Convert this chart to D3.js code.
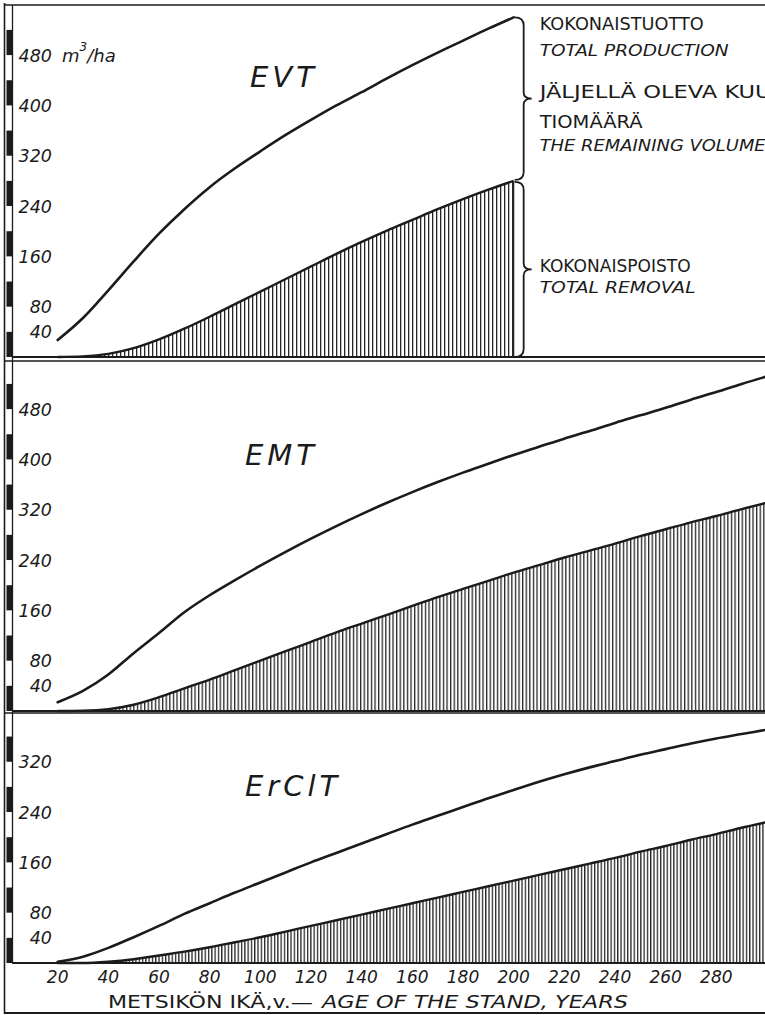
<!DOCTYPE html>
<html>
<head>
<meta charset="utf-8">
<script src="https://cdn.jsdelivr.net/npm/d3@7/dist/d3.min.js"></script>
<style>
    body { margin: 0; background: #fff; }
    svg { display: block; }
    text { font-family: "DejaVu Sans", sans-serif; fill: #1b1b1b; }
    .it { font-style: italic; }
</style>
</head>
<body>
<div id="chart"></div>
<script>
// stand age, years
const ages = [20, 30, 40, 50, 60, 70, 80, 90, 100, 110, 120, 130, 140, 150, 160,
    170, 180, 190, 200, 210, 220, 230, 240, 250, 260, 270, 280, 290, 300];

// m3/ha (EVT stops at 200 years)
const evtTotal = [27, 62, 106, 152, 196, 235, 270, 300, 327, 353, 377, 400, 421, 443, 464, 484, 503, 522, 540];
const evtRemoval = [0, 1, 5, 14, 28, 45, 64, 84, 104, 124, 144, 164, 183, 201, 218, 235, 251, 266, 280];

const emtTotal = [14, 32, 58, 92, 124, 157, 184, 208, 231, 253, 274, 294, 313, 331, 348, 364, 379, 393,
    407, 420, 433, 445, 458, 470, 482, 495, 507, 520, 532];
const emtRemoval = [0, 0.5, 3, 10, 22, 36, 50, 65, 80, 95, 110, 125, 139, 153, 167, 181, 194, 207,
    220, 232, 244, 255, 266, 278, 289, 300, 310, 321, 331];

const erclTotal = [2, 10, 24, 41, 59, 78, 95, 112, 128, 144, 160, 175, 190, 205, 220, 234, 248, 262,
    275, 288, 300, 311, 321, 331, 340, 349, 357, 364, 371];
const erclRemoval = [0, 0, 2, 6, 12, 18, 25, 33, 41, 50, 59, 68, 77, 86, 95, 104, 113, 122,
    131, 140, 149, 158, 167, 177, 186, 196, 205, 215, 224];

const yTicksTall = [40, 80, 160, 240, 320, 400, 480];
const yTicksShort = [40, 80, 160, 240, 320];
const xTicks = [20, 40, 60, 80, 100, 120, 140, 160, 180, 200, 220, 240, 260, 280];

const W = 765, H = 1015;
const ink = "#1b1b1b";
const pxPerUnit = 0.629;

let svg = d3.select("#chart").append("svg")
    .attr("width", W)
    .attr("height", H);

let x = d3.scaleLinear().domain([0, 300]).range([7, 767]);

let panels = [
    {title: "EVT", total: evtTotal, removal: evtRemoval, ticks: yTicksTall, top: 5, base: 357, hatch: 4.0, tx: 250, ty: 87},
    {title: "EMT", total: emtTotal, removal: emtRemoval, ticks: yTicksTall, top: 361, base: 711, hatch: 3.6, tx: 245, ty: 465},
    {title: "ErClT", total: erclTotal, removal: erclRemoval, ticks: yTicksShort, top: 713, base: 963, hatch: 3.3, tx: 245, ty: 796}
];

let defs = svg.append("defs");

panels.forEach((p, i) => {
    p.y = d3.scaleLinear().domain([0, 480]).range([p.base, p.base - 480 * pxPerUnit]);

    // vertical hatching pattern for the removal area
    let pat = defs.append("pattern")
        .attr("id", "hatch" + i)
        .attr("patternUnits", "userSpaceOnUse")
        .attr("width", p.hatch)
        .attr("height", 20);
    pat.append("rect")
        .attr("x", 0).attr("y", 0)
        .attr("width", 1.3).attr("height", 20)
        .attr("fill", "#262626");

    let n = p.total.length;
    let totalPts = ages.slice(0, n).map((a, k) => [a, p.total[k]]);
    let removalPts = ages.slice(0, p.removal.length).map((a, k) => [a, p.removal[k]]);

    let line = d3.line()
        .x(d => x(d[0]))
        .y(d => p.y(d[1]))
        .curve(d3.curveMonotoneX);

    let area = d3.area()
        .x(d => x(d[0]))
        .y0(p.base)
        .y1(d => p.y(d[1]))
        .curve(d3.curveMonotoneX);

    let g = svg.append("g");

    g.append("path")
        .attr("d", area(removalPts))
        .attr("fill", `url(#hatch${i})`);

    g.append("path")
        .attr("d", line(removalPts))
        .attr("fill", "none")
        .attr("stroke", ink)
        .attr("stroke-width", 2.4);

    g.append("path")
        .attr("d", line(totalPts))
        .attr("fill", "none")
        .attr("stroke", ink)
        .attr("stroke-width", 2.6)
        .attr("stroke-linecap", "round");

    // the closing vertical of the EVT hatch
    if (n < ages.length) {
        let endAge = ages[n - 1];
        g.append("line")
            .attr("x1", x(endAge)).attr("x2", x(endAge))
            .attr("y1", p.y(p.removal[n - 1])).attr("y2", p.base)
            .attr("stroke", ink).attr("stroke-width", 1.2);
    }

    // baseline and top rule
    g.append("line")
        .attr("x1", 12).attr("x2", W)
        .attr("y1", p.base).attr("y2", p.base)
        .attr("stroke", ink).attr("stroke-width", 2.2);
    g.append("line")
        .attr("x1", 4).attr("x2", W)
        .attr("y1", p.top).attr("y2", p.top)
        .attr("stroke", ink).attr("stroke-width", 1.6);

    // checkered scale bar on the left
    let maxV = p.y.invert(p.top);
    let segs = d3.range(0, maxV, 80);
    g.selectAll("rect.seg")
        .data(segs)
        .enter()
        .append("rect")
        .attr("class", "seg")
        .attr("x", 6.5)
        .attr("width", 5.5)
        .attr("y", d => Math.max(p.top, p.y(Math.min(d + 40, maxV))))
        .attr("height", d => p.y(d) - Math.max(p.top, p.y(Math.min(d + 40, maxV))))
        .attr("fill", ink);

    // y tick labels
    g.selectAll("text.ytick")
        .data(p.ticks)
        .enter()
        .append("text")
        .attr("class", "ytick it")
        .attr("x", 52)
        .attr("y", d => p.y(d) + 6.5)
        .attr("text-anchor", "end")
        .attr("font-size", 17.5)
        .text(d => d);

    // panel title
    g.append("text")
        .attr("class", "it")
        .attr("x", p.tx)
        .attr("y", p.ty)
        .attr("font-size", 29)
        .attr("letter-spacing", 4)
        .text(p.title);
});

// unit next to the top 480
let topPanel = panels[0];
let unit = svg.append("text")
    .attr("class", "it")
    .attr("x", 62)
    .attr("y", topPanel.y(480) + 6.5)
    .attr("font-size", 18);
unit.append("tspan").text("m");
unit.append("tspan").attr("dy", -11).attr("font-size", 12).text("3");
unit.append("tspan").attr("dy", 11).text("/ha");

// frame lines
svg.append("line")
    .attr("x1", 4.5).attr("x2", 4.5).attr("y1", 3).attr("y2", 1014)
    .attr("stroke", ink).attr("stroke-width", 1.6);
svg.append("line")
    .attr("x1", 12.5).attr("x2", 12.5).attr("y1", 5).attr("y2", 963)
    .attr("stroke", ink).attr("stroke-width", 1.3);
svg.append("line")
    .attr("x1", 4).attr("x2", W).attr("y1", 1013).attr("y2", 1013)
    .attr("stroke", ink).attr("stroke-width", 1.8);

// curly braces at the end of EVT
function brace(bx, y0, y1, tip) {
    let ym = (y0 + y1) / 2;
    let r = 8;
    return `M${bx - 9},${y0} Q${bx},${y0} ${bx},${y0 + r}` +
        ` L${bx},${ym - 6} Q${bx},${ym} ${bx + tip},${ym}` +
        ` Q${bx},${ym} ${bx},${ym + 6}` +
        ` L${bx},${y1 - r} Q${bx},${y1} ${bx - 9},${y1}`;
}

let endIdx = evtTotal.length - 1;
let bx = x(ages[endIdx]) + 10;
let yTot = topPanel.y(evtTotal[endIdx]);
let yRem = topPanel.y(evtRemoval[endIdx]);

svg.append("path")
    .attr("d", brace(bx, yTot, yRem - 1, 8))
    .attr("fill", "none").attr("stroke", ink).attr("stroke-width", 1.8);
svg.append("path")
    .attr("d", brace(bx, yRem + 1, topPanel.base, 8))
    .attr("fill", "none").attr("stroke", ink).attr("stroke-width", 1.8);

// right-hand labels
let labels = [
    {t: "KOKONAISTUOTTO", it: false, y: 30, len: 164},
    {t: "TOTAL PRODUCTION", it: true, y: 56, len: 189},
    {t: "JÄLJELLÄ OLEVA KUU", it: false, y: 98, len: 232},
    {t: "TIOMÄÄRÄ", it: false, y: 128, len: 103},
    {t: "THE REMAINING VOLUME", it: true, y: 151, len: 226},
    {t: "KOKONAISPOISTO", it: false, y: 272, len: 151},
    {t: "TOTAL REMOVAL", it: true, y: 293, len: 156}
];
svg.selectAll("text.lab")
    .data(labels)
    .enter()
    .append("text")
    .attr("class", d => d.it ? "lab it" : "lab")
    .attr("x", bx + 16)
    .attr("y", d => d.y)
    .attr("font-size", d => d.it ? 16.5 : 18)
    .attr("textLength", d => d.len)
    .attr("lengthAdjust", "spacingAndGlyphs")
    .text(d => d.t);

// x tick labels
let bottomPanel = panels[2];
svg.selectAll("text.xtick")
    .data(xTicks)
    .enter()
    .append("text")
    .attr("class", "xtick it")
    .attr("x", d => x(d))
    .attr("y", bottomPanel.base + 20)
    .attr("text-anchor", "middle")
    .attr("font-size", 17)
    .text(d => d);

// x axis title
let axisTitle = svg.append("text")
    .attr("x", 108)
    .attr("y", 1008)
    .attr("font-size", 18);
axisTitle.append("tspan").attr("textLength", 205).attr("lengthAdjust", "spacingAndGlyphs").text("METSIKÖN IKÄ,v.—");
axisTitle.append("tspan").attr("class", "it").attr("x", 322).attr("textLength", 306).attr("lengthAdjust", "spacingAndGlyphs").text("AGE OF THE STAND, YEARS");
</script>
</body>
</html>
